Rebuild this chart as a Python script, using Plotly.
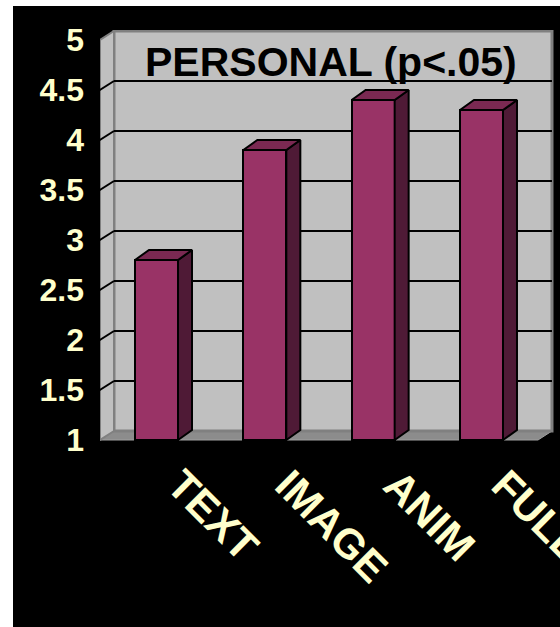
import plotly.graph_objects as go

# ---- data ----
categories = ["TEXT", "IMAGE", "ANIM", "FULL"]
scores = [2.8, 3.9, 4.4, 4.3]
tick_values = [1, 1.5, 2, 2.5, 3, 3.5, 4, 4.5, 5]
tick_labels = ["1", "1.5", "2", "2.5", "3", "3.5", "4", "4.5", "5"]
title_text = "PERSONAL (p<.05)"

# ---- geometry (pixels -> data units) ----
W, H = 560, 627
ML, MR, MT, MB = 100, 4, 30, 186
PX_X = 108.33          # pixels per category step
PX_Y = 100.0           # pixels per score unit
X0 = -56.5 / PX_X
X1 = X0 + (W - ML - MR) / PX_X
Y0 = 1 - 1 / PX_Y
Y1 = Y0 + (H - MT - MB) / PX_Y

DX = 14 / PX_X         # depth offset, horizontal
DYW = 9 / PX_Y         # depth offset of the walls, vertical
DYB = 10 / PX_Y        # depth offset of the bars, vertical
BAR_W = 43 / PX_X
XL = X0
XR = len(categories) - 1 - X0
YMIN, YMAX = tick_values[0], tick_values[-1]

FONT = "Liberation Sans, Arial, sans-serif"
CREAM = "#FFFFCC"
BAR_FRONT = "#993366"
BAR_TOP = "#7A2952"
BAR_SIDE = "#4F1A36"
WALL = "#C0C0C0"
WALL_EDGE = "#808080"
FLOOR = "#8C8C8C"


def paper_x(px):
    return (px - ML) / (W - ML - MR)


def paper_y(py):
    return (H - MB - py) / (H - MT - MB)


def poly(points):
    d = "M " + " L ".join(f"{x},{y}" for x, y in points) + " Z"
    return d


shapes = []
# page frame: white strips on the left and top
shapes.append(dict(type="rect", xref="paper", yref="paper",
                   x0=paper_x(-5), x1=paper_x(13), y0=paper_y(H + 5), y1=paper_y(-5),
                   fillcolor="white", line=dict(width=0), layer="above"))
shapes.append(dict(type="rect", xref="paper", yref="paper",
                   x0=paper_x(-5), x1=paper_x(W + 5), y0=paper_y(6), y1=paper_y(-5),
                   fillcolor="white", line=dict(width=0), layer="above"))

# floor
shapes.append(dict(type="path", xref="x", yref="y", layer="below",
                   path=poly([(XL, YMIN), (XR, YMIN), (XR + DX, YMIN + DYW), (XL + DX, YMIN + DYW)]),
                   fillcolor=FLOOR, line=dict(color="#A0A0A0", width=1)))
# back wall
shapes.append(dict(type="rect", xref="x", yref="y", layer="below",
                   x0=XL + DX, x1=XR + DX, y0=YMIN + DYW, y1=YMAX + DYW,
                   fillcolor=WALL, line=dict(color=WALL_EDGE, width=3)))
# side wall
shapes.append(dict(type="path", xref="x", yref="y", layer="below",
                   path=poly([(XL, YMIN), (XL, YMAX), (XL + DX, YMAX + DYW), (XL + DX, YMIN + DYW)]),
                   fillcolor=WALL, line=dict(color=WALL_EDGE, width=2)))
# gridlines on the back wall and ticks across the side wall
for v in tick_values[1:-1]:
    shapes.append(dict(type="line", xref="x", yref="y", layer="below",
                       x0=XL + DX, x1=XR + DX, y0=v + DYW, y1=v + DYW,
                       line=dict(color="black", width=2)))
    shapes.append(dict(type="line", xref="x", yref="y", layer="below",
                       x0=XL - 0.01, x1=XL + DX, y0=v - 0.005, y1=v + DYW,
                       line=dict(color="black", width=2)))

fig = go.Figure()

# front faces of the bars
fig.add_trace(go.Bar(
    x=list(range(len(categories))), y=[s - YMIN for s in scores], base=YMIN,
    width=BAR_W, marker=dict(color=BAR_FRONT, line=dict(color="black", width=2)),
    hoverinfo="skip", showlegend=False))

# side and top faces
side_x, side_y, top_x, top_y = [], [], [], []
for i, s in enumerate(scores):
    r = i + BAR_W / 2
    l = i - BAR_W / 2
    for px, py in [(r, YMIN), (r, s), (r + DX, s + DYB), (r + DX, YMIN + DYB), (r, YMIN)]:
        side_x.append(px)
        side_y.append(py)
    side_x.append(None)
    side_y.append(None)
    for px, py in [(l, s), (r, s), (r + DX, s + DYB), (l + DX, s + DYB), (l, s)]:
        top_x.append(px)
        top_y.append(py)
    top_x.append(None)
    top_y.append(None)

fig.add_trace(go.Scatter(x=side_x, y=side_y, mode="lines", fill="toself",
                         fillcolor=BAR_SIDE, line=dict(color="black", width=2),
                         hoverinfo="skip", showlegend=False))
fig.add_trace(go.Scatter(x=top_x, y=top_y, mode="lines", fill="toself",
                         fillcolor=BAR_TOP, line=dict(color="black", width=2),
                         hoverinfo="skip", showlegend=False))

annotations = [dict(
    text=title_text, xref="x", yref="y",
    x=(XL + XR) / 2 + DX - 0.02, y=4.785, showarrow=False,
    xanchor="center", yanchor="middle",
    font=dict(family=FONT, size=41, color="black", weight="bold"))]

for i, c in enumerate(categories):
    annotations.append(dict(
        text=c, xref="x", yref="paper", x=i, y=paper_y(458),
        xanchor="left", yanchor="top", xshift=-1, textangle=45, showarrow=False,
        font=dict(family=FONT, size=42, color=CREAM, weight="bold")))

fig.update_layout(
    width=W, height=H,
    margin=dict(l=ML, r=MR, t=MT, b=MB, pad=0),
    paper_bgcolor="black", plot_bgcolor="black",
    shapes=shapes, annotations=annotations,
    bargap=0, hovermode=False,
    xaxis=dict(range=[X0, X1], showgrid=False, zeroline=False, showline=False,
               showticklabels=False, ticks="", fixedrange=True),
    yaxis=dict(range=[Y0, Y1], tickvals=tick_values, ticktext=tick_labels,
               showgrid=False, zeroline=False, showline=False, ticks="",
               ticklabelstandoff=15, fixedrange=True,
               tickfont=dict(family=FONT, size=32, color=CREAM, weight="bold")),
)

fig.write_html("out.html", config={"displayModeBar": False})
